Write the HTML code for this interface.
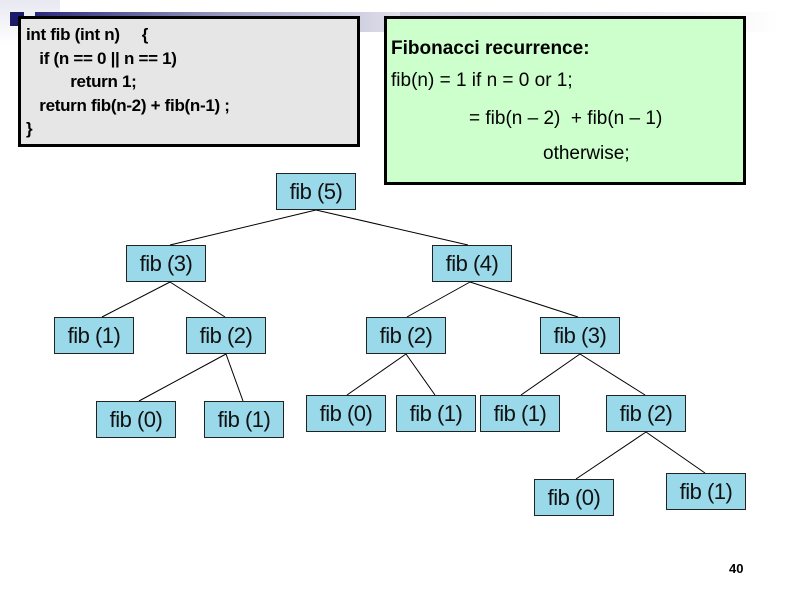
<!DOCTYPE html>
<html><head><style>
body{margin:0;width:794px;height:595px;background:#fff;position:relative;overflow:hidden;font-family:"Liberation Sans",sans-serif}
.b{position:absolute;width:78px;height:35px;background:#99d9ea;border:1px solid #222;font-size:22px;line-height:35px;text-align:center;color:#111;letter-spacing:-0.5px}
.t{position:absolute;white-space:pre;color:#000}
</style></head><body>
<div style="position:absolute;left:0;top:0;width:60px;height:45px;background:linear-gradient(180deg,#e8e8f2,#fff)"></div>
<div style="position:absolute;left:35px;top:12px;width:380px;height:20px;background:linear-gradient(90deg,#2a2a7a,#9a9ac0 50%,#e6e6ee)"></div>
<div style="position:absolute;left:400px;top:12px;width:380px;height:20px;background:linear-gradient(90deg,#c8c8d8,#fff)"></div>
<div style="position:absolute;left:10px;top:12px;width:14px;height:14px;background:#1a1a6a"></div>
<div style="position:absolute;left:18px;top:16px;width:336px;height:125px;background:#e6e6e6;border:3px solid #000"></div>
<div class="t" style="left:26px;top:23px;font-weight:bold;font-size:17px;line-height:23.5px;letter-spacing:-0.3px">int fib (int n)     {
   if (n == 0 || n == 1)
          return 1;
   return fib(n-2) + fib(n-1) ;
}</div>
<div style="position:absolute;left:384px;top:16px;width:356px;height:163px;background:#ccffcc;border:3px solid #000"></div>
<div class="t" style="left:391px;top:38px;font-size:19px;font-weight:bold">Fibonacci recurrence:</div>
<div class="t" style="left:391px;top:70px;font-size:19px">fib(n) = 1 if n = 0 or 1;</div>
<div class="t" style="left:469px;top:108px;font-size:19px">= fib(n – 2)  + fib(n – 1)</div>
<div class="t" style="left:543px;top:143px;font-size:19px">otherwise;</div>
<svg style="position:absolute;left:0;top:0" width="794" height="595"><g stroke="#000" stroke-width="1">
<line x1="316" y1="210" x2="170" y2="245"/><line x1="316" y1="210" x2="468" y2="245"/>
<line x1="170" y1="282" x2="102" y2="317"/><line x1="170" y1="282" x2="225" y2="317"/>
<line x1="226" y1="354" x2="139" y2="401"/><line x1="226" y1="354" x2="243" y2="401"/>
<line x1="470" y1="282" x2="407" y2="317"/><line x1="470" y1="282" x2="578" y2="317"/>
<line x1="406" y1="354" x2="347" y2="395"/><line x1="406" y1="354" x2="435" y2="395"/>
<line x1="580" y1="354" x2="521" y2="395"/><line x1="580" y1="354" x2="645" y2="395"/>
<line x1="646" y1="432" x2="576" y2="479"/><line x1="646" y1="432" x2="705" y2="473"/>
</g></svg>
<div class="b" style="left:276px;top:173px">fib (5)</div>
<div class="b" style="left:126px;top:245px">fib (3)</div>
<div class="b" style="left:432px;top:245px">fib (4)</div>
<div class="b" style="left:54px;top:317px">fib (1)</div>
<div class="b" style="left:186px;top:317px">fib (2)</div>
<div class="b" style="left:366px;top:317px">fib (2)</div>
<div class="b" style="left:540px;top:317px">fib (3)</div>
<div class="b" style="left:96px;top:401px">fib (0)</div>
<div class="b" style="left:204px;top:401px">fib (1)</div>
<div class="b" style="left:306px;top:395px">fib (0)</div>
<div class="b" style="left:396px;top:395px">fib (1)</div>
<div class="b" style="left:480px;top:395px">fib (1)</div>
<div class="b" style="left:606px;top:395px">fib (2)</div>
<div class="b" style="left:534px;top:479px">fib (0)</div>
<div class="b" style="left:666px;top:473px">fib (1)</div>
<div class="t" style="left:729px;top:561px;font-size:13px;font-weight:bold">40</div>
</body></html>
